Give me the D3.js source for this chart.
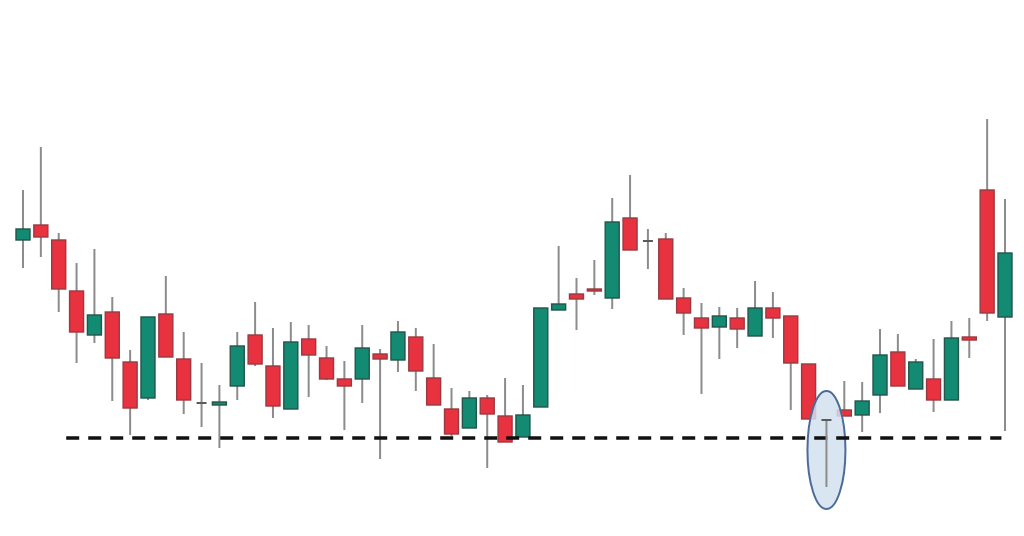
<!DOCTYPE html>
<html>
<head>
<meta charset="utf-8">
<script src="https://cdn.jsdelivr.net/npm/d3@7"></script>
<style>
html,body{margin:0;padding:0;background:#fff;}
svg{display:block;}
</style>
</head>
<body>
<svg id="chart" width="1024" height="536"></svg>
<script>
// OHLC values (arbitrary price units)
const opens  = [360,375,360,309,265,288,238,202,286,241,197,195,214,265,234,191,261,242,221,221,246,240,263,222,191,172,202,184,163,193,290,306,311,302,382,359,361,302,282,273,282,264,292,284,236,180,190,185,205,248,211,221,200,263,410,283];
const highs  = [410,453,367,337,351,303,250,283,324,268,237,215,268,298,272,278,275,254,239,275,251,279,272,256,212,209,205,222,215,292,354,322,340,402,425,371,367,312,297,293,292,319,308,284,236,180,219,218,271,266,241,261,279,282,481,401];
const lows   = [332,343,288,237,257,199,165,200,243,186,173,152,200,234,182,191,203,220,170,197,141,228,209,195,164,172,132,158,163,193,290,270,305,291,350,331,301,265,206,241,252,264,262,190,181,113,184,168,187,214,211,188,200,242,279,169];
const closes = [371,363,311,268,285,242,192,283,243,200,197,198,254,236,194,258,245,221,214,252,241,268,229,195,166,202,186,158,185,292,296,301,309,378,350,359,301,287,272,284,271,292,282,237,181,180,184,199,245,214,238,200,262,260,287,347];
const supportLevel = 162;
const highlightIndex = 45;
const highlightLow = 91;    // lower extent of highlight ellipse (price)
const highlightHigh = 209;  // upper extent of highlight ellipse (price)

const candles = opens.map((o,i)=>({i, o, h:highs[i], l:lows[i], c:closes[i]}));

const svg = d3.select("#chart");
const x = d3.scaleLinear().domain([0, candles.length-1]).range([23, 1005]);
const y = d3.scaleLinear().domain([64, 600]).range([536, 0]);
const bodyW = 14;

const RED = "#e8323f", RED_S = "#9a3a40";
const GREEN = "#138a72", GREEN_S = "#24544a";
const WICK = "#8c8c8c";

function drawCandle(g, d){
  g.append("line")
    .attr("x1", x(d.i)).attr("x2", x(d.i))
    .attr("y1", y(d.h)).attr("y2", y(d.l))
    .attr("stroke", WICK).attr("stroke-width", 2);
  if (d.o === d.c) {
    g.append("line")
      .attr("x1", x(d.i)-bodyW/2+2).attr("x2", x(d.i)+bodyW/2-2)
      .attr("y1", y(d.o)).attr("y2", y(d.o))
      .attr("stroke", "#5a5a5a").attr("stroke-width", 2);
  } else {
    const up = d.c > d.o;
    const top = Math.max(d.o, d.c), bot = Math.min(d.o, d.c);
    g.append("rect")
      .attr("x", x(d.i)-bodyW/2)
      .attr("y", y(top))
      .attr("width", bodyW)
      .attr("height", Math.max(1.5, y(bot)-y(top)))
      .attr("fill", up ? GREEN : RED)
      .attr("stroke", up ? GREEN_S : RED_S)
      .attr("stroke-width", 1.4);
  }
}

const gCandles = svg.append("g");
candles.forEach(d => { if (d.i !== highlightIndex) drawCandle(gCandles, d); });

// highlight ellipse
svg.append("ellipse")
  .attr("cx", x(highlightIndex))
  .attr("cy", (y(highlightLow)+y(highlightHigh))/2)
  .attr("rx", 19)
  .attr("ry", (y(highlightLow)-y(highlightHigh))/2)
  .attr("fill", "#d3e0f0")
  .attr("fill-opacity", 0.85)
  .attr("stroke", "#4c6c97")
  .attr("stroke-width", 2);

// support line
svg.append("line")
  .attr("x1", x(2.42)).attr("x2", x(54.8))
  .attr("y1", y(supportLevel)).attr("y2", y(supportLevel))
  .attr("stroke", "#111").attr("stroke-width", 3.5)
  .attr("stroke-dasharray", "13,9");

drawCandle(svg.append("g"), candles[highlightIndex]);
</script>
</body>
</html>
